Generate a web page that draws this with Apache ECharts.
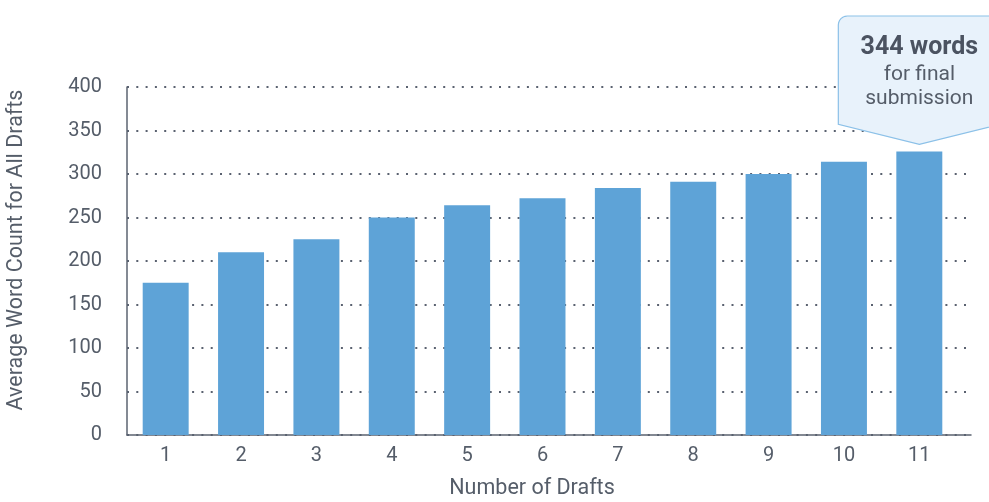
<!DOCTYPE html>
<html>
<head>
<meta charset="utf-8">
<script src="https://cdn.jsdelivr.net/npm/echarts@6/dist/echarts.min.js"></script>
<style>
  html, body { margin: 0; padding: 0; background: #ffffff; }
  #chart { width: 989px; height: 502px; }
</style>
</head>
<body>
<div id="chart"></div>
<script>
// Number of drafts on the x axis
const drafts = ['1', '2', '3', '4', '5', '6', '7', '8', '9', '10', '11'];
// Average word count across all drafts
const avgWords = [175, 210, 225, 250, 264, 272, 284, 291, 300, 314, 326];
// y axis ticks
const yTicks = [0, 50, 100, 150, 200, 250, 300, 350, 400];
// Callout text for the final submission
const finalWords = 344;
const calloutLines = [finalWords + ' words', 'for final', 'submission'];

const textColor = '#555d69';
const axisColor = '#5b6370';
const font = 'Roboto, "Noto Sans", sans-serif';
const yMin = yTicks[0], yMax = yTicks[yTicks.length - 1], yStep = yTicks[1] - yTicks[0];

const chart = echarts.init(document.getElementById('chart'), null, { renderer: 'canvas' });

chart.setOption({
  animation: false,
  grid: [
    // bars and category labels
    { left: 128, right: 32, top: 87, bottom: 67, outerBoundsMode: 'none', containLabel: false },
    // frame: axis lines and dotted gridlines run a bit past the last bar
    { left: 127, right: 18, top: 87, bottom: 67, outerBoundsMode: 'none', containLabel: false }
  ],
  xAxis: [
    {
      gridIndex: 0,
      type: 'category',
      data: drafts,
      name: 'Number of Drafts',
      nameLocation: 'middle',
      nameGap: 43,
      nameTextStyle: { color: textColor, fontSize: 21.5, fontFamily: font, padding: [0, 21, 0, 0] },
      axisLine: { show: false },
      axisTick: { show: false },
      axisLabel: { color: textColor, fontSize: 20, fontFamily: font, margin: 11 }
    },
    {
      gridIndex: 1,
      type: 'value',
      min: 0, max: 1,
      axisLine: { show: true, lineStyle: { color: axisColor, width: 1.5 } },
      axisTick: { show: false },
      axisLabel: { show: false },
      splitLine: { show: false }
    }
  ],
  yAxis: [
    {
      gridIndex: 0,
      type: 'value',
      min: yMin, max: yMax, interval: yStep,
      show: false
    },
    {
      gridIndex: 1,
      type: 'value',
      min: yMin, max: yMax, interval: yStep,
      name: 'Average Word Count for All Drafts',
      nameLocation: 'middle',
      nameGap: 99,
      nameTextStyle: { color: textColor, fontSize: 21.5, fontFamily: font, padding: [0, 0, 0, 22] },
      axisLine: { show: true, lineStyle: { color: axisColor, width: 1.5 } },
      axisTick: { show: false },
      axisLabel: { color: textColor, fontSize: 20, fontFamily: font, margin: 25 },
      splitLine: { lineStyle: { color: '#5a6270', width: 2, type: [2, 7.3] } }
    }
  ],
  series: [{
    type: 'bar',
    xAxisIndex: 0,
    yAxisIndex: 0,
    data: avgWords,
    barCategoryGap: '39%',
    itemStyle: { color: '#5ea3d7' },
    z: 5
  }]
});

// Callout pointing at the last bar
const lastIdx = avgWords.length - 1;
const barTop = chart.convertToPixel({ seriesIndex: 0 }, [lastIdx, avgWords[lastIdx]]);
const tipX = barTop[0], tipY = barTop[1] - 7;
const halfW = 81, boxTop = 16, boxBottom = tipY - 20, r = 9;
const lx = tipX - halfW, rx = tipX + halfW;

// rounded corner helper: quarter arc points
function arc(cx, cy, a0, a1) {
  const pts = [];
  for (let i = 0; i <= 6; i++) {
    const a = a0 + (a1 - a0) * i / 6;
    pts.push([cx + r * Math.cos(a), cy + r * Math.sin(a)]);
  }
  return pts;
}
const calloutPts = [].concat(
  [[lx, boxBottom]],
  arc(lx + r, boxTop + r, Math.PI, Math.PI * 1.5),
  arc(rx - r, boxTop + r, Math.PI * 1.5, Math.PI * 2),
  [[rx, boxBottom], [tipX, tipY]]
);

chart.setOption({
  graphic: [
    {
      type: 'polygon',
      z: 100,
      shape: { points: calloutPts },
      style: { fill: '#e8f2fb', stroke: '#8cc1e8', lineWidth: 1.2 }
    },
    {
      type: 'text', z: 101, x: tipX, y: 48,
      style: { text: calloutLines[0], fill: '#4b5361', font: 'bold 25px ' + font, align: 'center', verticalAlign: 'middle' }
    },
    {
      type: 'text', z: 101, x: tipX, y: 75,
      style: { text: calloutLines[1], fill: textColor, font: '21px ' + font, align: 'center', verticalAlign: 'middle' }
    },
    {
      type: 'text', z: 101, x: tipX, y: 99,
      style: { text: calloutLines[2], fill: textColor, font: '21px ' + font, align: 'center', verticalAlign: 'middle' }
    }
  ]
});
</script>
</body>
</html>
